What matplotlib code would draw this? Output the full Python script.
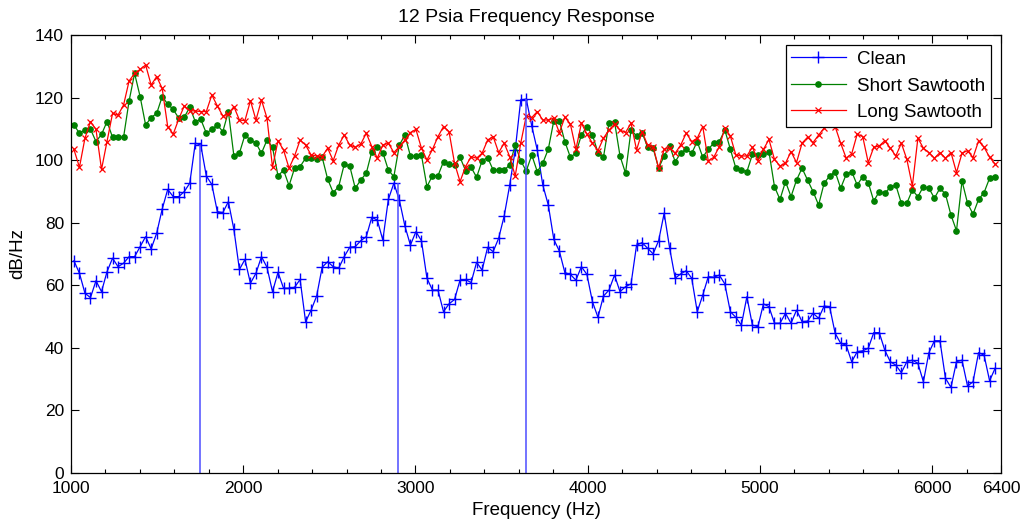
import numpy as np
import matplotlib.pyplot as plt

plt.rcParams['font.family'] = ['Liberation Sans', 'DejaVu Sans']

# spectrum levels (dB/Hz), one value per frequency bin
clean = [67.8, 63.8, 57.4, 56.0, 61.4, 57.9, 64.3, 68.6, 65.9, 67.0,
         69.1, 69.1, 72.3, 75.5, 71.6, 76.6, 84.3, 90.6, 88.3, 88.3,
         89.9, 92.6, 105.4, 104.8, 94.9, 92.2, 83.5, 83.2, 86.7, 77.8,
         65.0, 68.2, 60.6, 63.8, 69.1, 65.7, 57.9, 64.1, 59.0, 59.0,
         59.3, 61.8, 48.3, 52.0, 56.5, 65.7, 67.5, 65.9, 65.4, 69.1,
         72.1, 72.3, 74.2, 75.5, 81.7, 80.8, 74.4, 87.4, 92.6, 87.2,
         78.9, 72.8, 77.1, 74.2, 62.2, 58.4, 58.4, 51.5, 54.0, 55.4,
         61.6, 61.8, 60.8, 67.3, 64.8, 72.1, 70.7, 75.0, 82.1, 92.0,
         103.2, 119.2, 119.5, 110.9, 103.2, 92.0, 85.6, 74.6, 70.9, 64.0,
         63.4, 61.6, 65.9, 63.4, 54.7, 49.7, 56.5, 58.4, 63.2, 57.9,
         59.5, 60.4, 72.8, 73.6, 71.8, 70.0, 74.2, 83.0, 71.8, 62.2,
         63.6, 64.6, 62.2, 51.5, 56.8, 62.7, 62.5, 63.2, 60.4, 51.5,
         49.7, 47.2, 56.3, 47.2, 46.7, 54.0, 53.1, 47.8, 47.8, 51.0,
         47.8, 52.0, 48.3, 48.5, 51.0, 49.4, 53.3, 53.1, 44.6, 41.4,
         40.8, 35.5, 38.7, 39.0, 39.8, 44.8, 44.8, 39.2, 35.5, 34.4,
         32.0, 35.5, 36.0, 35.0, 29.1, 38.4, 42.2, 42.2, 30.2, 27.3,
         35.5, 36.0, 27.7, 29.1, 38.4, 37.6, 29.4, 33.4]

short_saw = [111.2, 108.6, 109.6, 109.9, 105.9, 108.2, 112.3, 107.3, 107.3, 107.3,
             118.9, 127.7, 120.3, 111.2, 113.6, 114.9, 120.3, 117.9, 116.2, 113.4,
             113.7, 116.9, 112.3, 113.0, 108.6, 109.8, 111.2, 109.1, 115.5, 101.3,
             102.2, 108.0, 106.4, 105.4, 102.2, 106.4, 104.1, 94.9, 96.8, 91.8,
             97.4, 97.9, 100.6, 100.8, 100.2, 100.9, 93.9, 89.6, 91.5, 98.6,
             98.1, 91.0, 93.6, 95.8, 102.7, 104.1, 102.4, 96.8, 94.7, 104.8,
             108.0, 101.3, 101.3, 101.6, 91.5, 95.0, 95.0, 99.5, 98.6, 98.4,
             100.9, 96.6, 97.7, 94.5, 99.8, 100.8, 96.8, 96.8, 96.8, 98.4,
             104.8, 99.8, 96.5, 101.6, 96.3, 99.0, 103.5, 112.6, 112.6, 105.9,
             100.9, 102.2, 108.0, 110.7, 108.0, 102.4, 100.9, 111.8, 112.3, 101.3,
             95.8, 109.6, 107.7, 108.8, 104.1, 103.8, 97.4, 101.3, 104.5, 99.5,
             102.2, 103.5, 102.2, 105.9, 100.9, 103.5, 105.4, 105.9, 109.6, 103.5,
             97.4, 96.8, 96.3, 101.8, 101.6, 101.8, 102.7, 91.5, 87.4, 93.1,
             88.3, 93.6, 97.4, 93.6, 89.9, 85.6, 92.6, 94.9, 96.3, 91.0,
             95.4, 96.3, 92.0, 94.7, 92.8, 86.9, 89.9, 89.4, 91.3, 92.0,
             86.2, 86.2, 90.4, 88.3, 91.5, 91.0, 87.8, 91.0, 89.1, 82.4,
             77.4, 93.3, 86.2, 82.7, 87.4, 89.6, 94.2, 94.7]

long_saw = [103.4, 97.7, 107.0, 112.3, 109.8, 97.0, 105.9, 114.9, 114.4, 117.6,
            125.3, 127.7, 129.0, 130.4, 124.0, 126.7, 122.9, 110.7, 108.3, 113.1,
            117.3, 115.8, 115.7, 115.5, 115.5, 120.8, 117.3, 114.1, 114.7, 117.1,
            112.8, 112.6, 119.0, 112.8, 119.2, 113.4, 97.7, 106.2, 103.2, 97.4,
            101.3, 106.4, 104.8, 101.6, 101.3, 101.1, 103.8, 99.8, 104.8, 108.0,
            104.8, 104.1, 105.1, 108.6, 104.3, 100.6, 104.8, 105.4, 102.4, 104.3,
            106.4, 108.8, 109.8, 103.8, 100.0, 103.4, 107.5, 110.7, 109.1, 99.0,
            93.1, 97.9, 101.1, 100.6, 102.2, 106.4, 107.5, 102.4, 105.4, 101.1,
            94.9, 105.4, 114.1, 113.6, 115.5, 112.8, 112.8, 113.4, 108.8, 113.7,
            111.5, 103.4, 111.8, 108.3, 105.4, 103.0, 107.0, 109.6, 111.5, 109.6,
            108.8, 111.8, 103.2, 109.1, 104.8, 104.3, 97.4, 103.4, 103.8, 102.2,
            104.8, 108.6, 105.9, 107.0, 110.7, 99.7, 100.9, 104.3, 110.2, 107.7,
            101.6, 101.3, 101.3, 104.1, 99.8, 103.4, 106.6, 100.2, 98.1, 99.0,
            102.7, 99.2, 105.4, 107.3, 105.6, 108.0, 110.2, 112.0, 110.7, 105.4,
            100.6, 102.0, 108.3, 107.5, 99.2, 104.1, 104.5, 106.2, 103.8, 101.3,
            105.4, 100.2, 91.7, 107.0, 103.8, 102.4, 100.6, 102.4, 100.6, 102.4,
            96.0, 102.2, 103.0, 100.8, 106.1, 104.1, 100.9, 98.7]

# resonance peaks of the clean signal
peak_freqs = [1750, 2897, 3640]
peak_levels = [104.8, 92.6, 119.5]

freq = np.linspace(1017, 6366, len(clean))

fig = plt.figure(figsize=(10.26, 5.22), dpi=100)
ax = fig.add_axes([0.0692, 0.0944, 0.9064, 0.8386])

ax.plot(freq, clean, color='b', marker='+', ms=8, mew=1.0, lw=0.9, label='Clean')
ax.plot(freq, short_saw, color='#008000', marker='o', ms=3.8, lw=0.9, label='Short Sawtooth')
ax.plot(freq, long_saw, color='r', marker='x', ms=4, mew=0.9, lw=0.9, label='Long Sawtooth')
ax.vlines(peak_freqs, 0, peak_levels, color='#4d4dff', lw=1.1)

ax.set_xlim(1000, 6400)
ax.set_ylim(0, 140)
ax.set_xticks([1000, 2000, 3000, 4000, 5000, 6000, 6400])
ax.set_xticks(np.arange(1000, 6401, 200), minor=True)
ax.set_yticks(np.arange(0, 141, 20))
ax.tick_params(which='both', direction='in', top=True, right=True, labelsize=12.5, width=0.8)
ax.tick_params(which='major', length=6)
ax.tick_params(which='minor', length=3)
ax.tick_params(axis='x', which='major', pad=6)
ax.tick_params(axis='y', which='major', pad=5)
for s in ax.spines.values():
    s.set_linewidth(0.9)

ax.set_title('12 Psia Frequency Response', fontsize=14, pad=9, x=0.49)
ax.set_xlabel('Frequency (Hz)', fontsize=13.5, labelpad=4)
ax.set_ylabel('dB/Hz', fontsize=13.5, labelpad=6)

leg = ax.legend(loc='upper right', fontsize=13.5, fancybox=False, edgecolor='k',
                framealpha=1, handlelength=2.9, handletextpad=0.6,
                borderaxespad=0.55, labelspacing=0.5, borderpad=0.3)
leg.get_frame().set_linewidth(0.9)

fig.savefig('out.png', dpi=100)
